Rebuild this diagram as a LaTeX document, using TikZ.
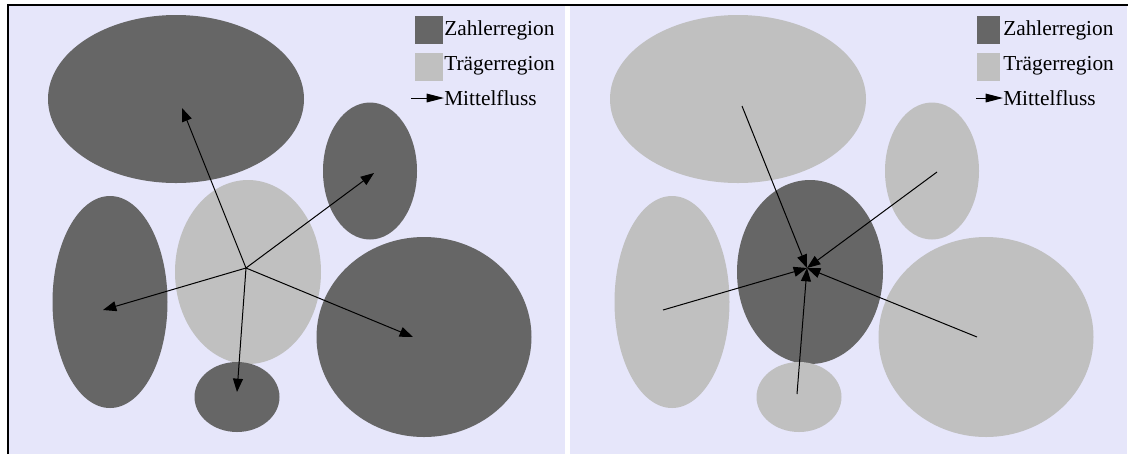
\documentclass[tikz,border=0pt]{standalone}
\usepackage{fontspec}
\setmainfont{Liberation Serif}
\usetikzlibrary{shapes.geometric,arrows.meta}
\definecolor{bgl}{RGB}{230,230,250}
\definecolor{darkr}{RGB}{102,102,102}
\definecolor{lightr}{RGB}{192,192,192}
\begin{document}
\begin{tikzpicture}[x=0.75pt,y=-0.75pt,
  reg/.style={ellipse,inner sep=0pt,draw=none},
  sz/.style 2 args={minimum width={#1*0.75pt},minimum height={#2*0.75pt}},
  zr/.style={reg,fill=darkr},
  tr/.style={reg,fill=lightr},
  flow/.style={line width=0.75pt,-{Triangle[length=10pt,width=7.5pt]}},
  legflow/.style={line width=0.75pt,-{Triangle[length=13pt,width=6.5pt]}},
  key/.style={inner sep=0pt},
  lbl/.style={anchor=west,inner sep=0pt,font=\fontsize{16pt}{18pt}\selectfont},
  frame/.style={line width=1.5pt,black}]
\useasboundingbox (0,0) rectangle (1128,455);
\fill[white] (0,0) rectangle (1128,455);
% panels
\fill[bgl] (9,6) rectangle (565,454);
\fill[bgl] (570,6) rectangle (1127,454);
\draw[frame] (8,454) -- (8,5) -- (1128,5);
% ---------- left panel ----------
\node[zr,sz={256}{168}] (L1) at (176,99) {};
\node[zr,sz={94}{137}] (L2) at (370,171) {};
\node[zr,sz={115}{212}] (L3) at (110,302) {};
\node[tr,sz={146}{184}] (L4) at (248,272) {};
\node[zr,sz={215}{200}] (L5) at (424,337) {};
\node[zr,sz={85}{70}] (L6) at (237,397) {};
\coordinate (Lh) at (246,268);
\coordinate (Le1) at (182,108);
\coordinate (Le2) at (374,173);
\coordinate (Le3) at (103,310);
\coordinate (Le5) at (413,337);
\coordinate (Le6) at (237,392);
\foreach \e in {Le1,Le2,Le3,Le5,Le6} \draw[flow] (Lh) -- (\e);
% legend left
\node[key,fill=darkr,sz={28}{28}] (LkZ) at (429,29.5) {};
\node[lbl] (LtZ) at (444,30) {Zahlerregion};
\node[key,fill=lightr,sz={28}{28}] (LkT) at (429,66.5) {};
\node[lbl] (LtT) at (444,66) {Trägerregion};
\coordinate (LaS) at (411,98);
\node[lbl] (LtM) at (444,98) {Mittelfluss};
\draw[legflow] (LaS) -- (LtM.west);
% ---------- right panel ----------
\node[tr,sz={256}{168}] (R1) at (738,99) {};
\node[tr,sz={94}{137}] (R2) at (932,171) {};
\node[tr,sz={115}{212}] (R3) at (672,302) {};
\node[zr,sz={146}{184}] (R4) at (810,272) {};
\node[tr,sz={215}{200}] (R5) at (986,337) {};
\node[tr,sz={85}{70}] (R6) at (799,397) {};
\coordinate (Rh) at (807,268);
\coordinate (Rs1) at (742,106);
\coordinate (Rs2) at (937,172);
\coordinate (Rs3) at (663,310);
\coordinate (Rs5) at (977,337);
\coordinate (Rs6) at (797,394);
\foreach \s in {Rs1,Rs2,Rs3,Rs5,Rs6} \draw[flow] (\s) -- (Rh);
% legend right
\node[key,fill=darkr,sz={23}{28}] (RkZ) at (988.5,29.5) {};
\node[lbl] (RtZ) at (1003,30) {Zahlerregion};
\node[key,fill=lightr,sz={23}{28}] (RkT) at (988.5,66.5) {};
\node[lbl] (RtT) at (1003,66) {Trägerregion};
\coordinate (RaS) at (976,98);
\node[lbl] (RtM) at (1003,98) {Mittelfluss};
\draw[legflow] (RaS) -- (RtM.west);
\end{tikzpicture}
\end{document}
